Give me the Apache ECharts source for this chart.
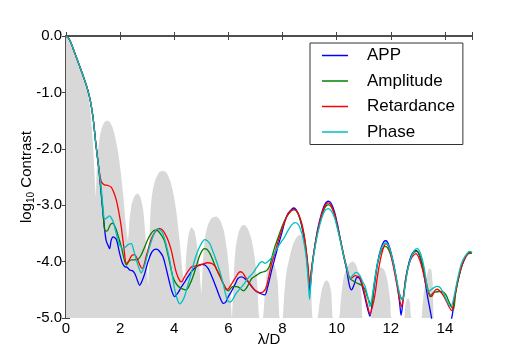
<!DOCTYPE html>
<html>
<head>
<meta charset="utf-8">
<script src="https://cdn.jsdelivr.net/npm/echarts@6/dist/echarts.min.js"></script>
<style>
    html, body { margin: 0; padding: 0; background: #fff; }
    #main { width: 525px; height: 350px; }
</style>
</head>
<body>
<div id="main"></div>
<script>
// series names, legend order
var seriesNames = ['APP', 'Amplitude', 'Retardance', 'Phase'];
var seriesColors = ['#0000ff', '#008000', '#ff0000', '#00bfbf'];

// shared head of all curves (lambda/D, log10 contrast)
var headCurve = [[0,0],[0.1,-0.04],[0.2,-0.14],[0.3,-0.27],[0.4,-0.4],[0.5,-0.53],[0.6,-0.66],[0.7,-0.8],
    [0.8,-0.95],[0.9,-1.15],[1.0,-1.45],[1.1,-1.9],[1.2,-2.3]];

// unaberrated psf, grey background
var grayCurve = [[0,0],[0.1,-0.04],[0.2,-0.14],[0.3,-0.28],[0.4,-0.42],[0.5,-0.56],[0.6,-0.7],[0.7,-0.84],
    [0.8,-1.0],[0.88,-1.25],[0.95,-1.6],[1.0,-1.95],[1.04,-2.3],[1.07,-2.6],[1.1,-2.85],
    [1.13,-2.45],[1.18,-2.05],[1.25,-1.78],[1.33,-1.62],[1.42,-1.53],[1.52,-1.5],[1.62,-1.53],[1.72,-1.62],
    [1.82,-1.8],[1.92,-2.05],[2.02,-2.4],[2.12,-2.85],[2.2,-3.3],[2.29,-3.62],
    [2.34,-3.3],[2.42,-3.0],[2.52,-2.85],[2.64,-2.79],[2.75,-2.86],[2.85,-3.08],[2.93,-3.5],[2.99,-4.0],[3.04,-4.42],
    [3.08,-3.6],[3.13,-3.05],[3.2,-2.75],[3.3,-2.55],[3.44,-2.42],[3.58,-2.39],[3.72,-2.43],[3.86,-2.58],
    [3.98,-2.82],[4.1,-3.2],[4.2,-3.65],[4.3,-4.15],[4.38,-4.4],
    [4.44,-3.9],[4.52,-3.55],[4.63,-3.39],[4.74,-3.45],[4.84,-3.7],[4.93,-4.1],[5.0,-4.56],
    [5.06,-4.0],[5.13,-3.6],[5.24,-3.35],[5.38,-3.23],[5.55,-3.2],[5.7,-3.27],[5.83,-3.45],[5.95,-3.8],[6.05,-4.3],[6.13,-5.0],
    [6.2,-4.2],[6.27,-3.75],[6.38,-3.48],[6.5,-3.36],[6.6,-3.35],[6.72,-3.42],[6.85,-3.6],[6.97,-3.92],[7.07,-4.4],[7.15,-5.0],[7.27,-5.0],
    [7.34,-4.6],[7.42,-4.2],[7.52,-4.03],[7.62,-4.0],[7.72,-4.08],[7.82,-4.35],[7.9,-5.0],[8.0,-5.0],
    [8.06,-4.6],[8.14,-4.2],[8.27,-3.9],[8.4,-3.68],[8.52,-3.57],[8.64,-3.53],[8.76,-3.58],[8.88,-3.75],[8.98,-4.05],[9.06,-4.5],[9.12,-5.0],[9.28,-5.0],
    [9.35,-4.8],[9.45,-4.5],[9.55,-4.36],[9.63,-4.33],[9.72,-4.38],[9.8,-4.55],[9.87,-5.0],[10.08,-5.0],
    [10.15,-4.7],[10.25,-4.3],[10.38,-4.1],[10.5,-4.02],[10.6,-4.0],[10.72,-4.06],[10.83,-4.25],[10.92,-4.6],[10.97,-5.0],[11.25,-5.0],
    [11.32,-4.8],[11.4,-4.4],[11.52,-4.16],[11.64,-4.1],[11.76,-4.15],[11.88,-4.35],[11.98,-4.7],[12.03,-5.0],[12.48,-5.0],
    [12.53,-4.8],[12.58,-4.68],[12.64,-4.65],[12.71,-4.72],[12.77,-5.0],[13.12,-5.0],
    [13.16,-4.85],[13.22,-4.55],[13.32,-4.28],[13.42,-4.12],[13.5,-4.15],[13.56,-4.5],[13.6,-5.0],[15,-5.0]];

var appCurve = headCurve.concat([[1.3,-2.8],[1.4,-3.3],[1.48,-3.62],[1.56,-3.72],[1.61,-3.77],[1.67,-3.62],[1.74,-3.56],
    [1.86,-3.61],[1.98,-3.85],[2.08,-4.02],[2.17,-4.09],[2.26,-4.1],[2.35,-4.15],[2.45,-4.16],[2.54,-4.21],[2.63,-4.32],
    [2.72,-4.42],[2.82,-4.33],[2.91,-4.21],[3.03,-4.0],[3.15,-3.85],[3.25,-3.79],[3.34,-3.78],[3.46,-3.82],[3.58,-3.91],
    [3.7,-4.12],[3.83,-4.38],[3.93,-4.55],[4.01,-4.62],[4.13,-4.56],[4.26,-4.45],[4.4,-4.35],[4.57,-4.22],[4.72,-4.13],
    [4.88,-4.07],[5.02,-4.05],[5.13,-4.06],[5.25,-4.12],[5.35,-4.22],[5.46,-4.35],[5.58,-4.5],[5.7,-4.65],[5.81,-4.74],
    [5.9,-4.72],[6.0,-4.62],[6.11,-4.53],[6.25,-4.4],[6.35,-4.3],[6.49,-4.27],[6.6,-4.3],[6.73,-4.36],[6.91,-4.47],
    [7.04,-4.53],[7.2,-4.57],[7.35,-4.59],[7.45,-4.45],[7.6,-4.15],[7.71,-3.95],[7.85,-3.7],[7.97,-3.5],[8.08,-3.3],
    [8.2,-3.15],[8.34,-3.07],[8.42,-3.05],[8.5,-3.08],[8.6,-3.18],[8.7,-3.35],[8.8,-3.6],[8.9,-3.95],[8.96,-4.3],
    [9.01,-4.52],[9.06,-4.25],[9.12,-3.98],[9.2,-3.7],[9.3,-3.42],[9.44,-3.15],[9.56,-2.99],[9.69,-2.93],[9.8,-2.97],
    [9.92,-3.12],[10.02,-3.32],[10.12,-3.56],[10.25,-3.88],[10.37,-4.15],[10.47,-4.42],[10.55,-4.5],[10.65,-4.4],
    [10.75,-4.28],[10.85,-4.3],[10.95,-4.45],[11.05,-4.65],[11.15,-4.85],[11.23,-4.97],[11.32,-4.7],[11.41,-4.35],
    [11.52,-4.0],[11.64,-3.76],[11.75,-3.64],[11.82,-3.63],[11.92,-3.7],[12.05,-3.92],[12.15,-4.15],[12.25,-4.45],
    [12.33,-4.75],[12.38,-4.95],[12.45,-4.7],[12.55,-4.3],[12.68,-4.0],[12.8,-3.85],[12.93,-3.8],[13.05,-3.88],
    [13.15,-4.05],[13.25,-4.3],[13.35,-4.6],[13.45,-4.85],[13.55,-5.1],[13.7,-5.3],[13.9,-5.4],[14.1,-5.3],[14.27,-4.95],
    [14.35,-4.65],[14.48,-4.33],[14.61,-4.09],[14.76,-3.92],[14.92,-3.83],[15,-3.84]]);

var amplitudeCurve = headCurve.concat([[1.3,-2.75],[1.38,-3.2],[1.43,-3.44],[1.5,-3.46],[1.55,-3.44],[1.62,-3.36],
    [1.67,-3.33],[1.74,-3.32],[1.8,-3.37],[1.86,-3.44],[1.95,-3.58],[2.04,-3.73],[2.13,-3.92],[2.23,-4.06],[2.32,-4.0],
    [2.41,-3.97],[2.52,-3.97],[2.66,-3.96],[2.78,-3.88],[2.9,-3.75],[3.03,-3.6],[3.15,-3.5],[3.25,-3.45],[3.33,-3.44],
    [3.43,-3.47],[3.55,-3.55],[3.65,-3.65],[3.8,-3.95],[3.95,-4.27],[4.08,-4.4],[4.2,-4.46],[4.32,-4.49],[4.44,-4.5],
    [4.56,-4.42],[4.69,-4.27],[4.82,-4.07],[4.95,-3.88],[5.07,-3.78],[5.12,-3.77],[5.2,-3.78],[5.31,-3.85],[5.43,-3.98],
    [5.55,-4.12],[5.69,-4.25],[5.8,-4.38],[5.9,-4.47],[6.0,-4.52],[6.11,-4.46],[6.19,-4.44],[6.35,-4.45],[6.45,-4.48],
    [6.55,-4.52],[6.65,-4.48],[6.77,-4.38],[6.86,-4.3],[6.95,-4.27],[7.05,-4.24],[7.17,-4.2],[7.3,-4.18],[7.41,-4.16],
    [7.52,-4.08],[7.62,-3.9],[7.72,-3.73],[7.83,-3.58],[7.95,-3.42],[8.09,-3.26],[8.22,-3.16],[8.33,-3.1],[8.42,-3.08],
    [8.52,-3.11],[8.62,-3.2],[8.72,-3.37],[8.82,-3.6],[8.9,-3.92],[8.96,-4.25],[9.01,-4.42],[9.06,-4.2],[9.13,-3.93],
    [9.2,-3.72],[9.3,-3.46],[9.44,-3.2],[9.56,-3.05],[9.69,-2.99],[9.8,-3.03],[9.92,-3.16],[10.02,-3.36],[10.12,-3.58],
    [10.25,-3.88],[10.37,-4.12],[10.49,-4.3],[10.6,-4.34],[10.74,-4.38],[10.92,-4.42],[11.05,-4.5],[11.13,-4.62],
    [11.22,-4.72],[11.29,-4.77],[11.36,-4.5],[11.45,-4.2],[11.55,-3.95],[11.66,-3.8],[11.78,-3.73],[11.85,-3.74],
    [11.95,-3.82],[12.08,-4.02],[12.2,-4.3],[12.32,-4.58],[12.44,-4.68],[12.52,-4.45],[12.62,-4.15],[12.75,-3.93],
    [12.87,-3.83],[12.98,-3.82],[13.1,-3.93],[13.22,-4.15],[13.35,-4.45],[13.45,-4.62],[13.55,-4.56],[13.63,-4.54],
    [13.8,-4.53],[13.94,-4.54],[14.05,-4.6],[14.12,-4.68],[14.22,-4.78],[14.31,-4.86],[14.4,-4.55],[14.55,-4.21],
    [14.7,-3.98],[14.86,-3.86],[15,-3.85]]);

var retardanceCurve = headCurve.concat([[1.3,-2.58],[1.36,-2.62],[1.43,-2.64],[1.55,-2.65],[1.67,-2.68],[1.77,-2.78],
    [1.86,-2.91],[1.95,-3.12],[2.04,-3.38],[2.13,-3.72],[2.23,-4.03],[2.3,-4.0],[2.38,-3.93],[2.46,-3.88],[2.54,-3.88],
    [2.63,-3.95],[2.72,-4.05],[2.8,-4.12],[2.87,-4.08],[2.95,-3.93],[3.03,-3.79],[3.15,-3.6],[3.28,-3.48],[3.4,-3.42],
    [3.46,-3.41],[3.56,-3.44],[3.65,-3.5],[3.77,-3.62],[3.89,-3.8],[3.98,-4.0],[4.08,-4.2],[4.18,-4.32],[4.26,-4.36],
    [4.38,-4.27],[4.51,-4.17],[4.62,-4.1],[4.75,-4.08],[4.9,-4.07],[5.07,-4.04],[5.22,-4.02],[5.38,-4.03],[5.5,-4.08],
    [5.62,-4.2],[5.75,-4.33],[5.85,-4.43],[5.93,-4.5],[6.02,-4.47],[6.15,-4.37],[6.29,-4.26],[6.43,-4.18],[6.53,-4.2],
    [6.61,-4.26],[6.72,-4.34],[6.86,-4.44],[6.98,-4.51],[7.1,-4.54],[7.2,-4.55],[7.3,-4.53],[7.4,-4.45],[7.5,-4.25],
    [7.6,-4.03],[7.7,-3.88],[7.83,-3.65],[7.93,-3.5],[8.03,-3.36],[8.15,-3.2],[8.27,-3.12],[8.38,-3.08],[8.46,-3.08],
    [8.55,-3.12],[8.65,-3.23],[8.75,-3.4],[8.85,-3.7],[8.93,-4.05],[9.0,-4.4],[9.05,-4.2],[9.12,-3.95],[9.2,-3.72],
    [9.3,-3.46],[9.44,-3.17],[9.56,-3.02],[9.67,-2.96],[9.78,-2.99],[9.9,-3.13],[10.0,-3.32],[10.12,-3.58],[10.25,-3.86],
    [10.37,-4.1],[10.49,-4.3],[10.58,-4.28],[10.68,-4.25],[10.78,-4.26],[10.86,-4.28],[10.96,-4.42],[11.05,-4.6],
    [11.15,-4.8],[11.23,-4.93],[11.32,-4.8],[11.41,-4.6],[11.5,-4.28],[11.58,-4.05],[11.66,-3.87],[11.75,-3.73],
    [11.82,-3.68],[11.9,-3.72],[12.0,-3.88],[12.1,-4.1],[12.22,-4.4],[12.32,-4.66],[12.4,-4.8],[12.47,-4.6],[12.57,-4.25],
    [12.7,-4.0],[12.82,-3.9],[12.93,-3.86],[13.05,-3.95],[13.15,-4.1],[13.25,-4.3],[13.32,-4.46],[13.42,-4.57],
    [13.51,-4.62],[13.62,-4.52],[13.72,-4.49],[13.83,-4.53],[13.94,-4.6],[14.05,-4.7],[14.15,-4.8],[14.25,-4.87],
    [14.35,-4.65],[14.48,-4.33],[14.61,-4.09],[14.76,-3.92],[14.92,-3.83],[15,-3.84]]);

var phaseCurve = headCurve.concat([[1.3,-2.7],[1.36,-3.0],[1.43,-3.25],[1.52,-3.22],[1.61,-3.19],[1.67,-3.22],
    [1.74,-3.29],[1.83,-3.45],[1.92,-3.62],[2.0,-3.72],[2.1,-3.77],[2.2,-3.74],[2.29,-3.7],[2.41,-3.68],[2.5,-3.8],
    [2.6,-3.97],[2.7,-4.12],[2.78,-4.2],[2.88,-4.1],[2.97,-3.96],[3.08,-3.75],[3.21,-3.56],[3.32,-3.44],[3.4,-3.42],
    [3.5,-3.45],[3.58,-3.5],[3.7,-3.7],[3.83,-3.97],[3.92,-4.22],[4.01,-4.48],[4.1,-4.65],[4.2,-4.75],[4.3,-4.7],
    [4.38,-4.62],[4.5,-4.42],[4.63,-4.2],[4.75,-3.98],[4.88,-3.8],[5.0,-3.68],[5.12,-3.61],[5.22,-3.63],[5.31,-3.68],
    [5.43,-3.82],[5.55,-3.98],[5.7,-4.2],[5.82,-4.42],[5.94,-4.65],[6.05,-4.72],[6.15,-4.68],[6.29,-4.56],[6.45,-4.47],
    [6.6,-4.38],[6.75,-4.28],[6.91,-4.2],[7.05,-4.1],[7.17,-4.02],[7.25,-4.0],[7.35,-4.03],[7.46,-4.0],[7.58,-3.94],
    [7.7,-3.85],[7.83,-3.74],[7.95,-3.65],[8.07,-3.57],[8.2,-3.45],[8.34,-3.35],[8.46,-3.31],[8.58,-3.34],[8.68,-3.45],
    [8.78,-3.63],[8.88,-3.95],[8.95,-4.35],[9.0,-4.67],[9.05,-4.35],[9.12,-4.0],[9.2,-3.75],[9.3,-3.5],[9.44,-3.24],
    [9.56,-3.1],[9.69,-3.06],[9.8,-3.1],[9.92,-3.22],[10.02,-3.4],[10.12,-3.6],[10.25,-3.88],[10.37,-4.1],[10.49,-4.3],
    [10.6,-4.24],[10.72,-4.19],[10.85,-4.24],[10.96,-4.36],[11.05,-4.44],[11.15,-4.62],[11.23,-4.8],[11.32,-4.6],
    [11.41,-4.3],[11.52,-4.0],[11.64,-3.78],[11.75,-3.68],[11.82,-3.67],[11.92,-3.72],[12.05,-3.93],[12.15,-4.15],
    [12.27,-4.45],[12.37,-4.65],[12.44,-4.68],[12.52,-4.45],[12.62,-4.15],[12.75,-3.93],[12.87,-3.8],[12.98,-3.77],
    [13.1,-3.86],[13.22,-4.08],[13.32,-4.38],[13.39,-4.54],[13.48,-4.5],[13.57,-4.47],[13.7,-4.44],[13.82,-4.46],
    [13.95,-4.56],[14.08,-4.7],[14.21,-4.8],[14.3,-4.7],[14.45,-4.35],[14.6,-4.05],[14.75,-3.9],[14.92,-3.82],[15,-3.84]]);

var curves = [appCurve, amplitudeCurve, retardanceCurve, phaseCurve];

var fontFamily = '"Liberation Sans", Arial, sans-serif';
var frameColor = '#444';

function frameAxis(pos, isX) {
    var ax = {
        type : 'value',
        position : pos,
        min : isX ? 0 : -5,
        max : isX ? 15 : 0,
        interval : isX ? 2 : 1,
        axisLine : { show : true, lineStyle : { color : frameColor, width : 1.5 } },
        axisTick : { show : true, inside : true, length : 4, lineStyle : { color : frameColor } },
        axisLabel : { show : false },
        splitLine : { show : false }
    };
    return ax;
}

var xBottom = frameAxis('bottom', true);
xBottom.axisLabel = {
    show : true, color : '#000', fontSize : 15, fontFamily : fontFamily, margin : 3,
    formatter : function(v) { return v === 15 ? '' : String(v); }
};
xBottom.name = '\u03bb/D';
xBottom.nameLocation = 'middle';
xBottom.nameGap = 14;
xBottom.nameMoveOverlap = false;
xBottom.nameTextStyle = { color : '#000', fontSize : 15, fontFamily : fontFamily };

var yLeft = frameAxis('left', false);
yLeft.axisLabel = {
    show : true, color : '#000', fontSize : 15, fontFamily : fontFamily, margin : 4,
    formatter : function(v) { return v.toFixed(1); }
};
yLeft.name = 'log{sub|10} Contrast';
yLeft.nameLocation = 'middle';
yLeft.nameRotate = 90;
yLeft.nameGap = 30;
yLeft.nameMoveOverlap = false;
yLeft.nameTextStyle = {
    color : '#000', fontSize : 15, fontFamily : fontFamily,
    rich : { sub : { fontSize : 10, fontFamily : fontFamily, color : '#000', verticalAlign : 'bottom', padding : [8, 0, 0, 0] } }
};

var xTop = frameAxis('top', true);
var yRight = frameAxis('right', false);

var series = [{
    name : 'psf',
    type : 'line',
    data : grayCurve,
    xAxisIndex : 0,
    yAxisIndex : 0,
    symbol : 'none',
    smooth : 0.2,
    lineStyle : { width : 0 },
    areaStyle : { color : '#d8d8d8', opacity : 1, origin : 'start' },
    silent : true,
    z : 1
}];
for (var i = 0; i < seriesNames.length; i++) {
    series.push({
        name : seriesNames[i],
        type : 'line',
        data : curves[i],
        xAxisIndex : 0,
        yAxisIndex : 0,
        symbol : 'none',
        smooth : 0.3,
        clip : true,
        color : seriesColors[i],
        lineStyle : { width : 1.3, color : seriesColors[i] },
        z : 2 + i
    });
}

var myChart = echarts.init(document.getElementById('main'), null, { renderer : 'canvas' });
myChart.setOption({
    animation : false,
    backgroundColor : '#fff',
    grid : { left : 66, right : 53, top : 36, bottom : 32, containLabel : false, outerBoundsMode : 'none' },
    xAxis : [xBottom, xTop],
    yAxis : [yLeft, yRight],
    legend : {
        data : seriesNames,
        orient : 'vertical',
        left : 310,
        top : 43,
        icon : 'rect',
        itemWidth : 26,
        itemHeight : 1.5,
        itemGap : 8.5,
        padding : [4, 8, 4, 12],
        borderColor : '#333',
        borderWidth : 1,
        borderRadius : 0,
        backgroundColor : '#fff',
        textStyle : { color : '#000', fontSize : 17, fontFamily : fontFamily, padding : [0, 0, 0, 14], lineHeight : 17 }
    },
    series : series
});
</script>
</body>
</html>
